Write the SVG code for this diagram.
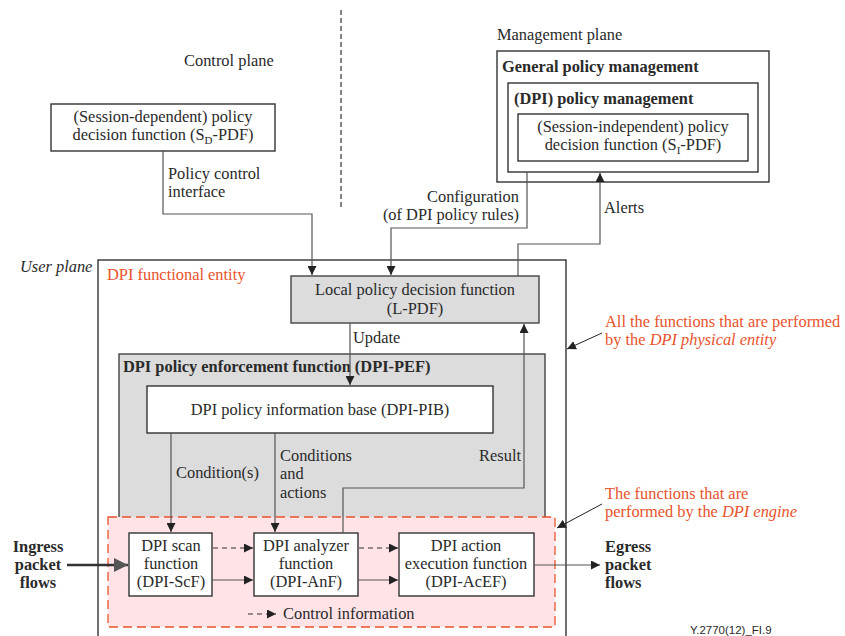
<svg xmlns="http://www.w3.org/2000/svg" width="845" height="636" viewBox="0 0 845 636">
<style>
text{font-family:"Liberation Serif","Times New Roman","DejaVu Serif",serif;font-size:16.4px;fill:#2a2a2a}
.b{font-weight:bold}
.o{fill:#e8532b}
.c{text-anchor:middle}
.r{text-anchor:end}
.box{fill:#fff;stroke:#333;stroke-width:1.4}
.gray{fill:#dcdcdc;stroke:#444;stroke-width:1.4}
.ln{fill:none;stroke:#555;stroke-width:1.2}
.dash{fill:none;stroke:#333;stroke-width:1.2;stroke-dasharray:5 4}
</style>
<defs>
<marker id="ah" viewBox="0 0 10 10" refX="10" refY="5" markerWidth="9" markerHeight="9" markerUnits="userSpaceOnUse" orient="auto"><path d="M0,0 L10,5 L0,10 Z" fill="#222"/></marker>
<marker id="ahb" viewBox="0 0 10 10" refX="10" refY="5" markerWidth="14" markerHeight="14" markerUnits="userSpaceOnUse" orient="auto"><path d="M0,0 L10,5 L0,10 Z" fill="#555"/></marker>
</defs>
<rect width="845" height="636" fill="#fff"/>

<line x1="341" y1="10" x2="341" y2="208" stroke="#333" stroke-width="1.2" stroke-dasharray="5 3"/>
<text x="184" y="66">Control plane</text>
<text x="497" y="40">Management plane</text>
<text x="20" y="272" font-style="italic">User plane</text>

<g id="sd-pdf">
<rect class="box" x="51" y="104" width="224" height="47"/>
<text class="c" x="163" y="122">(Session-dependent) policy</text>
<text class="c" x="163" y="140">decision function (S<tspan font-size="11" dy="4">D</tspan><tspan dy="-4">-PDF)</tspan></text>
</g>

<g id="general-policy-management">
<rect class="box" x="497" y="51" width="272" height="131"/>
<text class="b" x="502" y="72">General policy management</text>
</g>
<g id="dpi-policy-management">
<rect class="box" x="508" y="83" width="250" height="89"/>
<text class="b" x="514" y="104">(DPI) policy management</text>
</g>
<g id="si-pdf">
<rect class="box" x="518" y="114" width="230" height="47"/>
<text class="c" x="633" y="132">(Session-independent) policy</text>
<text class="c" x="633" y="150">decision function (S<tspan font-size="11" dy="4">I</tspan><tspan dy="-4">-PDF)</tspan></text>
</g>

<g id="dpi-functional-entity">
<rect x="98" y="260" width="468" height="390" fill="none" stroke="#333" stroke-width="1.4"/>
<text class="o" x="107" y="280">DPI functional entity</text>
</g>

<g id="l-pdf">
<rect class="gray" x="291" y="276" width="248" height="47"/>
<text class="c" x="415" y="295">Local policy decision function</text>
<text class="c" x="415" y="314">(L-PDF)</text>
</g>

<g id="dpi-pef">
<rect class="gray" x="119" y="354" width="426" height="268"/>
<text class="b" x="123" y="372">DPI policy enforcement function (DPI-PEF)</text>
</g>

<g id="dpi-engine">
<rect x="108" y="517" width="447" height="110" fill="#ffe3e7" stroke="#e8532b" stroke-width="1.3" stroke-dasharray="9 5"/>
</g>

<g id="dpi-pib">
<rect class="box" x="147" y="386" width="346" height="47"/>
<text class="c" x="320" y="415">DPI policy information base (DPI-PIB)</text>
</g>

<g id="dpi-scf">
<rect class="box" x="129" y="533" width="83" height="63"/>
<text class="c" x="171" y="551">DPI scan</text>
<text class="c" x="171" y="569">function</text>
<text class="c" x="171" y="587">(DPI-ScF)</text>
</g>
<g id="dpi-anf">
<rect class="box" x="254" y="533" width="104" height="63"/>
<text class="c" x="306" y="551">DPI analyzer</text>
<text class="c" x="306" y="569">function</text>
<text class="c" x="306" y="587">(DPI-AnF)</text>
</g>
<g id="dpi-acef">
<rect class="box" x="399" y="533" width="135" height="63"/>
<text class="c" x="466" y="551">DPI action</text>
<text class="c" x="466" y="569">execution function</text>
<text class="c" x="466" y="587">(DPI-AcEF)</text>
</g>

<g id="connectors">
<polyline class="ln" points="163,151 163,214 312,214 312,275" marker-end="url(#ah)"/>
<polyline class="ln" points="527,172 527,228 391,228 391,275" marker-end="url(#ah)"/>
<polyline class="ln" points="518,276 518,244 600,244 600,173" marker-end="url(#ah)"/>
<line class="ln" x1="350" y1="323" x2="350" y2="385" marker-end="url(#ah)"/>
<line class="ln" x1="171" y1="433" x2="171" y2="532" marker-end="url(#ah)"/>
<line class="ln" x1="275" y1="433" x2="275" y2="532" marker-end="url(#ah)"/>
<polyline class="ln" points="343,533 343,488 524,488 524,324" marker-end="url(#ah)"/>
<line class="dash" x1="213" y1="548" x2="253" y2="548" marker-end="url(#ah)"/>
<line class="dash" x1="359" y1="548" x2="398" y2="548" marker-end="url(#ah)"/>
<line class="ln" x1="212" y1="580" x2="253" y2="580" stroke="#222" marker-end="url(#ah)"/>
<line class="ln" x1="358" y1="580" x2="398" y2="580" stroke="#222" marker-end="url(#ah)"/>
<line x1="67" y1="565" x2="128" y2="565" stroke="#333" stroke-width="2.5" marker-end="url(#ahb)"/>
<line class="ln" x1="534" y1="565" x2="600" y2="565" stroke="#333" marker-end="url(#ah)"/>
<line class="dash" x1="248" y1="614" x2="276" y2="614" marker-end="url(#ah)"/>
<line x1="602" y1="333" x2="567" y2="349" stroke="#222" stroke-width="1" marker-end="url(#ah)"/>
<line x1="602" y1="504" x2="557" y2="528" stroke="#222" stroke-width="1" marker-end="url(#ah)"/>
</g>

<text x="168" y="179">Policy control</text>
<text x="168" y="197">interface</text>
<text class="r" x="519" y="202">Configuration</text>
<text class="r" x="519" y="220">(of DPI policy rules)</text>
<text x="604" y="213">Alerts</text>
<text x="353" y="343">Update</text>
<text x="176" y="478">Condition(s)</text>
<text x="280" y="461">Conditions</text>
<text x="280" y="479">and</text>
<text x="280" y="498">actions</text>
<text class="r" x="521" y="461">Result</text>
<text x="283" y="619">Control information</text>
<text class="b c" x="38" y="552">Ingress</text>
<text class="b c" x="38" y="570">packet</text>
<text class="b c" x="38" y="588">flows</text>
<text class="b" x="605" y="552">Egress</text>
<text class="b" x="605" y="570">packet</text>
<text class="b" x="605" y="588">flows</text>
<text class="o" x="605" y="327">All the functions that are performed</text>
<text class="o" x="605" y="345">by the <tspan font-style="italic">DPI physical entity</tspan></text>
<text class="o" x="605" y="499">The functions that are</text>
<text class="o" x="605" y="517">performed by the  <tspan font-style="italic">DPI engine</tspan></text>
<text x="690" y="634" style="font-family:'Liberation Sans',Arial,sans-serif;font-size:11.5px">Y.2770(12)_FI.9</text>
</svg>
